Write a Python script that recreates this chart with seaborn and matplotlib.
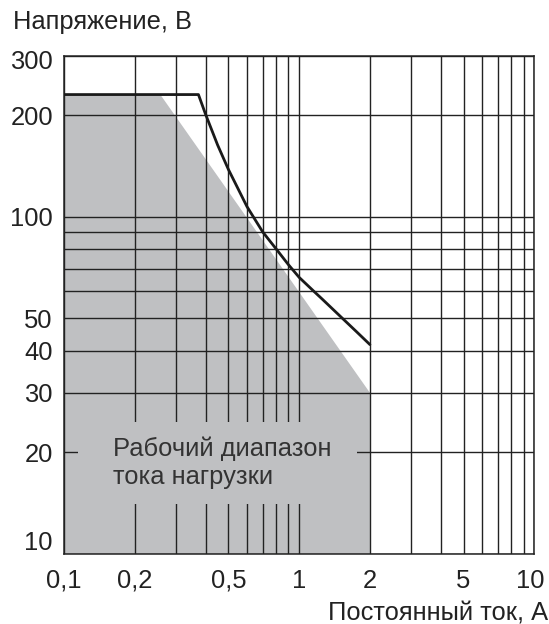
import numpy as np
import pandas as pd
import seaborn as sns
import matplotlib.pyplot as plt
import matplotlib.transforms as mtransforms
from matplotlib.patches import Rectangle

# Данные
curve_current = [0.1, 0.373, 0.4, 0.45, 0.5, 0.6, 0.7, 0.8, 0.9, 1.0, 1.17, 1.25, 1.5, 1.75, 2.0]
curve_voltage = [230, 230, 201, 163, 138, 107, 90, 80, 72, 66, 59.5, 57, 50.5, 45.6, 41.7]

area_current = [0.1, 0.1, 0.259, 2.0, 2.0]
area_voltage = [10, 228, 228, 30, 10]

x_grid = [0.1, 0.2, 0.3, 0.4, 0.5, 0.6, 0.7, 0.8, 0.9, 1, 2, 3, 4, 5, 6, 7, 8, 9, 10]
x_labels = ["0,1", "0,2", "", "", "0,5", "", "", "", "", "1", "2", "", "", "5", "", "", "", "", "10"]
y_grid = [10, 20, 30, 40, 50, 60, 70, 80, 90, 100, 200, 300]
y_labels = ["10", "20", "30", "40", "50", "", "", "", "", "100", "200", "300"]

FS = 18.4
GRAY = "#bfc0c2"
INK = "#222222"

sns.set_style("white")
plt.rcParams["font.family"] = ["Liberation Sans", "DejaVu Sans"]
plt.rcParams["font.size"] = FS

fig = plt.figure(figsize=(5.49, 6.24), dpi=100)
ax = fig.add_axes([0.1166, 0.1127, 0.8566, 0.7981])
ax.set_xscale("log")
ax.set_yscale("log")

# серая область
ax.fill(area_current, area_voltage, color=GRAY, lw=0, zorder=0.2)

# кривая
df = pd.DataFrame({"I": curve_current, "U": curve_voltage})
sns.lineplot(data=df, x="I", y="U", sort=False, color="#1a1a1a", lw=2.0, ax=ax, zorder=3)

ax.set_xlim(0.1, 10)
ax.set_ylim(10, 300)
ax.set_xticks(x_grid, labels=x_labels)
ax.set_yticks(y_grid, labels=y_labels)
ax.set_xticks([], minor=True)
ax.set_yticks([], minor=True)
ax.set_axisbelow(True)
ax.grid(True, color=INK, lw=1.0)
ax.tick_params(length=0, labelsize=FS, colors=INK)
ax.tick_params(axis="x", pad=11)
ax.tick_params(axis="y", pad=8)
ax.set_xlabel("")
ax.set_ylabel("")
for s in ax.spines.values():
    s.set_color(INK)
    s.set_linewidth(1.1)

# подложка под надписью (скрывает сетку)
ax.add_patch(Rectangle((0.1147, 14.0), 1.765 - 0.1147, 24.6 - 14.0,
                       facecolor=GRAY, edgecolor="none", zorder=0.7))
ax.text(0.1616, 18.65, "Рабочий диапазон\nтока нагрузки", fontsize=FS,
        color="#333333", va="center", ha="left", linespacing=1.2, zorder=4)

# сдвиг крайних подписей
for lab in ax.get_xticklabels():
    if lab.get_text() == "10":
        lab.set_transform(lab.get_transform() + mtransforms.ScaledTranslation(-4 / 100, 0, fig.dpi_scale_trans))
for lab in ax.get_yticklabels():
    if lab.get_text() == "10":
        lab.set_transform(lab.get_transform() + mtransforms.ScaledTranslation(0, 13 / 100, fig.dpi_scale_trans))
    if lab.get_text() == "300":
        lab.set_transform(lab.get_transform() + mtransforms.ScaledTranslation(0, -4 / 100, fig.dpi_scale_trans))

fig.text(13 / 549, 1 - 22 / 624, "Напряжение, В", ha="left", va="center", fontsize=FS, color=INK)
fig.text(548 / 549, 1 - 613 / 624, "Постоянный ток, А", ha="right", va="center", fontsize=FS, color=INK)

plt.savefig("out.png", dpi=100)
